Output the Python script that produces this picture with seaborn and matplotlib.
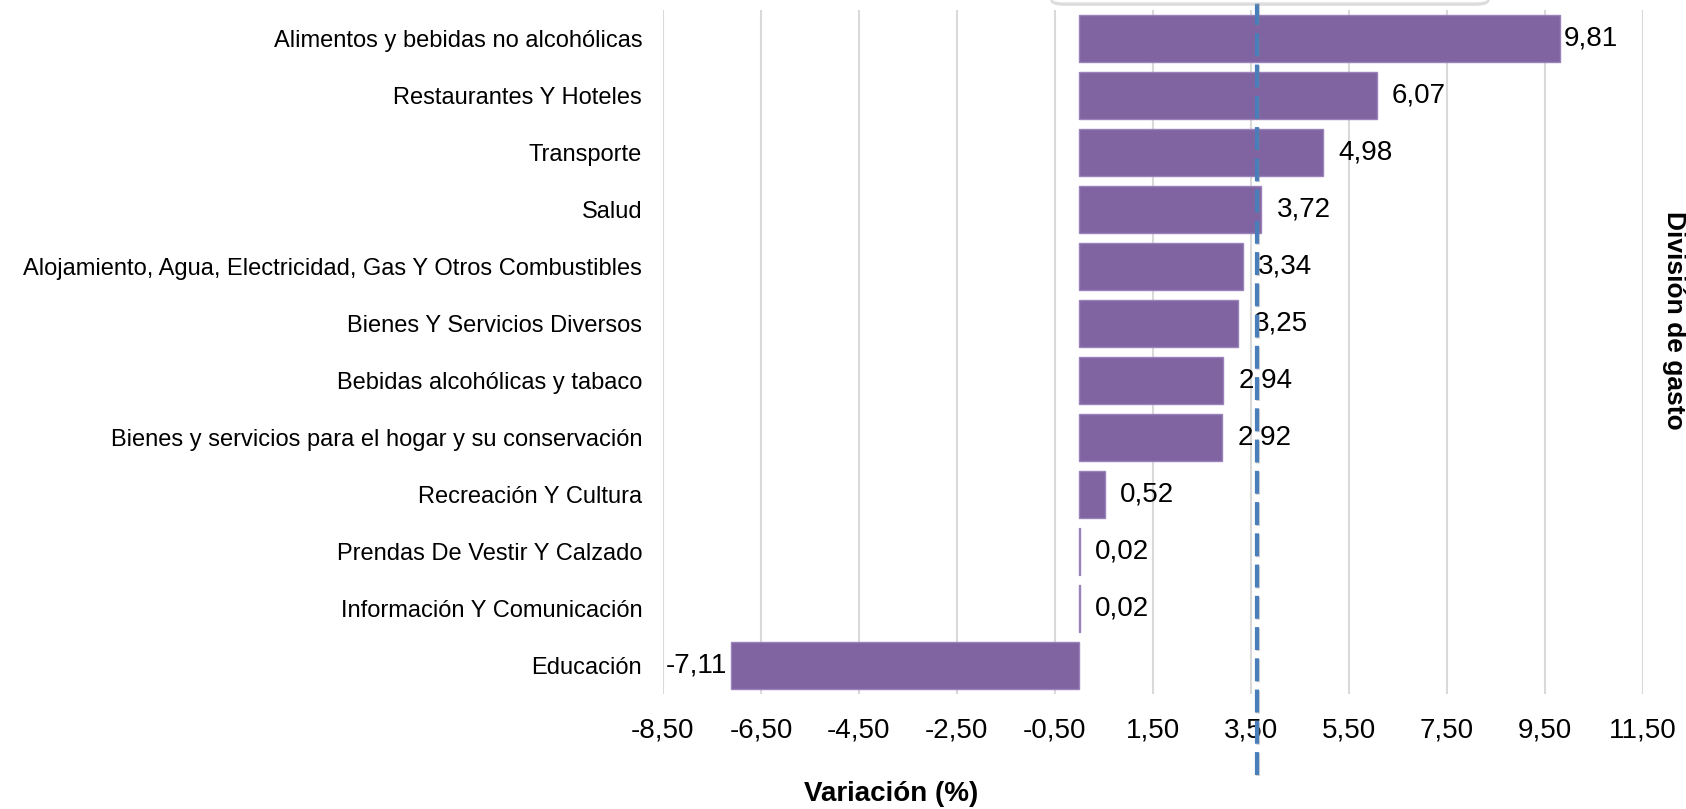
import matplotlib
matplotlib.use("Agg")
import matplotlib.pyplot as plt
import matplotlib.patheffects as pe
from matplotlib.patches import FancyBboxPatch
from matplotlib.transforms import blended_transform_factory
import seaborn as sns
import pandas as pd

categorias = [
    "Alimentos y bebidas no alcohólicas",
    "Restaurantes Y Hoteles",
    "Transporte",
    "Salud",
    "Alojamiento, Agua, Electricidad, Gas Y Otros Combustibles",
    "Bienes Y Servicios Diversos",
    "Bebidas alcohólicas y tabaco",
    "Bienes y servicios para el hogar y su conservación",
    "Recreación Y Cultura",
    "Prendas De Vestir Y Calzado",
    "Información Y Comunicación",
    "Educación",
]
variacion = [9.81, 6.07, 4.98, 3.72, 3.34, 3.25, 2.94, 2.92, 0.52, 0.02, 0.02, -7.11]
promedio = 3.62
ticks = [-8.5, -6.5, -4.5, -2.5, -0.5, 1.5, 3.5, 5.5, 7.5, 9.5, 11.5]

sns.set_theme(style="white")
plt.rcParams['font.family'] = ['Liberation Sans', 'DejaVu Sans']

df = pd.DataFrame({"Division": categorias, "Variacion": variacion})

fig = plt.figure(figsize=(16.86, 8.09), dpi=100)
ax = fig.add_axes([663/1686, 1-694/809, (1642.5-663)/1686, (694-10)/809])

sns.barplot(data=df, x="Variacion", y="Division", order=categorias, orient="h",
            color="#8064A2", saturation=1, width=0.81, ax=ax, zorder=2,
            edgecolor="#9A82BA", linewidth=1.0)

ax.set_xlim(-8.5, 11.5)
ax.set_ylim(11.5, -0.5)
ax.set_xticks(ticks)
ax.set_xticklabels([f"{t:.2f}".replace(".", ",") for t in ticks], fontsize=20)
ax.tick_params(axis="x", length=0, pad=17, colors="black")
ax.tick_params(axis="y", length=0, pad=15, labelsize=17, colors="black")
ax.grid(axis="x", color="#D9D9D9", linewidth=1.5, zorder=0)
ax.grid(axis="y", visible=False)
ax.set_axisbelow(True)
for s in ax.spines.values():
    s.set_visible(False)
ax.set_xlabel("")
ax.set_ylabel("")

# value labels
for i, v in enumerate(variacion):
    pad = 4 if abs(v) > 7 else 15
    txt = f"{v:.2f}".replace(".", ",")
    if v >= 0:
        ax.annotate(txt, (v, i), xytext=(pad, 0), textcoords="offset pixels",
                    ha="left", va="center", fontsize=20, color="black", zorder=5)
    else:
        ax.annotate(txt, (v, i), xytext=(-pad, 0), textcoords="offset pixels",
                    ha="right", va="center", fontsize=20, color="black", zorder=5)

# legend box remnant at top
box = FancyBboxPatch((1050/1686, 1-3/809), 440/1686, 0.05,
                     boxstyle="round,pad=0,rounding_size=0.008",
                     transform=fig.transFigure, facecolor="white",
                     edgecolor="#E0E0E0", linewidth=1, clip_on=False, zorder=3,
                     path_effects=[pe.SimplePatchShadow(offset=(0, -2), shadow_rgbFace="#999999", alpha=0.35), pe.Normal()])
fig.add_artist(box)

# average dashed line
trans = blended_transform_factory(ax.transData, ax.transAxes)
ax.plot([promedio, promedio], [(694-775)/684, 694/684 + 0.01], transform=trans,
        color="#4A7EBB", linewidth=3, dashes=(5.5, 2.0), clip_on=False, zorder=10,
        solid_capstyle="butt", dash_capstyle="butt",
        path_effects=[pe.SimpleLineShadow(offset=(1, -1), shadow_color="gray", alpha=0.35), pe.Normal()])

fig.text(891/1686, 1-794/809, "Variación (%)", ha="center", va="center",
         fontsize=20, fontweight="bold", color="black")
fig.text(1674/1686, 1-320/809, "División de gasto", ha="center", va="center",
         rotation=-90, fontsize=19, fontweight="bold", color="black")

fig.savefig("out.png", dpi=100)
